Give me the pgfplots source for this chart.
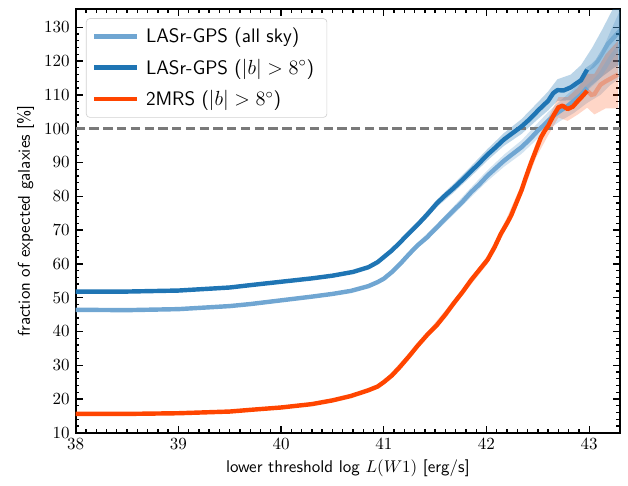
\documentclass[border=0pt]{standalone}
\usepackage{pgfplots}
\pgfplotsset{compat=1.18}
\usepgfplotslibrary{fillbetween}
\definecolor{cLight}{RGB}{112,166,210}
\definecolor{cDark}{RGB}{31,117,180}
\definecolor{cRed}{RGB}{255,69,0}
\begin{document}
\begin{tikzpicture}
\begin{axis}[
  scale only axis,
  width=320.2pt, height=249.1pt,
  xmin=38, xmax=43.3, ymin=10, ymax=135.3,
  xtick={38,39,40,41,42,43},
  ytick={10,20,30,40,50,60,70,80,90,100,110,120,130},
  minor x tick num=9, minor y tick num=4,
  tick align=inside, tick pos=both,
  major tick length=4.2pt, minor tick length=2.2pt,
  every tick/.style={black, line width=0.8pt},
  axis line style={line width=1.1pt},
  xlabel={\sffamily lower threshold log $L(W1)$ [erg/s]},
  ylabel={\sffamily fraction of expected galaxies [\%]},
  xlabel style={yshift=1pt},
  ylabel style={yshift=-1pt},
  legend cell align=left,
  legend style={at={(0.019,0.979)}, anchor=north west, rounded corners=2pt,
    draw=gray!35, fill=white, fill opacity=0.85, text opacity=1,
    font=\sffamily\fontsize{11.5}{13.5}\selectfont, row sep=4pt, inner sep=3.5pt,
    nodes={inner xsep=4pt}},
  legend image code/.code={\draw[#1, line width=2.6pt, opacity=1] (0pt,0pt) -- (25pt,0pt);},
]
% dashed reference line
\addplot[forget plot, gray!95!black, line width=1.6pt, dash pattern=on 5.5pt off 2.6pt] coordinates {(38,100) (43.3,100)};

% bands: light
\addplot[name path=lu, draw=none, forget plot] coordinates {
(41.0,56.0) (41.16,60.6) (41.33,66.3) (41.52,71.9) (41.68,77.0) (41.85,82.6) (42.01,87.7) (42.17,92.3) (42.34,96.5) (42.5,101.7) (42.6,104.9) (42.72,108.3) (42.85,111.8) (42.98,116.6) (43.11,122) (43.21,129) (43.3,135)};
\addplot[name path=ll, draw=none, forget plot] coordinates {
(41.0,55.2) (41.16,59.4) (41.33,64.7) (41.52,69.9) (41.68,74.6) (41.85,79.8) (42.01,84.5) (42.17,88.7) (42.34,92.5) (42.5,97.1) (42.6,99.7) (42.72,102.3) (42.85,104.6) (42.98,107.6) (43.11,110) (43.21,113) (43.3,115)};
\addplot[forget plot, fill=cLight, fill opacity=0.3, draw=none] fill between[of=lu and ll];

% bands: dark
\addplot[name path=du, draw=none, forget plot] coordinates {
(41.0,62.5) (41.16,67.1) (41.33,72.5) (41.52,79.1) (41.68,83.7) (41.85,88.9) (42.01,94.0) (42.17,98.7) (42.34,102.8) (42.5,107.8) (42.6,111.0) (42.69,114.6) (42.82,116.0) (42.92,118.8) (43.03,124.0) (43.13,129.5) (43.24,136) (43.3,139)};
\addplot[name path=dl, draw=none, forget plot] coordinates {
(41.0,61.5) (41.16,65.7) (41.33,70.7) (41.52,76.9) (41.68,81.1) (41.85,85.9) (42.01,90.6) (42.17,94.9) (42.34,98.4) (42.5,102.8) (42.6,105.4) (42.69,108.2) (42.82,108.4) (42.92,109.8) (43.03,113.0) (43.13,115.5) (43.24,118) (43.3,119)};
\addplot[forget plot, fill=cDark, fill opacity=0.3, draw=none] fill between[of=du and dl];

% bands: red
\addplot[name path=ru, draw=none, forget plot] coordinates {
(41.0,25.4) (41.33,36.4) (41.68,49.2) (42.01,62.4) (42.2,73.8) (42.34,83.5) (42.48,95.7) (42.6,103.2) (42.7,109.3) (42.79,109.3) (42.89,112.2) (42.98,116.2) (43.05,116.2) (43.16,122) (43.28,126)};
\addplot[name path=rl, draw=none, forget plot] coordinates {
(41.0,24.6) (41.33,35.2) (41.68,47.4) (42.01,60.0) (42.2,70.8) (42.34,79.9) (42.48,91.3) (42.6,98.0) (42.7,103.3) (42.79,102.3) (42.89,104.2) (42.98,106.2) (43.05,104.2) (43.16,106) (43.28,106)};
\addplot[forget plot, fill=cRed, fill opacity=0.22, draw=none] fill between[of=ru and rl];

% faded tails (x > 43)
\addplot[forget plot, cLight, line width=2.6pt, opacity=0.3] coordinates {
(42.98,112.1) (43.05,114.0) (43.11,116.0) (43.16,118.5) (43.21,121.0) (43.26,123) (43.3,125)};
\addplot[forget plot, cDark, line width=2.6pt, opacity=0.3] coordinates {
(42.98,117.5) (43.03,118.5) (43.08,120.0) (43.13,122.5) (43.18,125.0) (43.24,127) (43.3,129)};
\addplot[forget plot, cRed, line width=2.6pt, opacity=0.3] coordinates {
(42.98,111.2) (43.02,110.0) (43.05,110.2) (43.11,113.0) (43.16,114) (43.22,115) (43.28,116)};

% main lines
\addplot[cLight, line width=2.6pt, line join=round] coordinates {
(38.0,46.4) (38.5,46.3) (39.0,46.6) (39.5,47.5) (39.7,48.1) (40.0,49.2) (40.3,50.3) (40.5,51.1) (40.68,52.0) (40.85,53.4) (40.94,54.6) (41.0,55.6) (41.08,57.6) (41.16,60.0) (41.25,63.0) (41.33,65.5) (41.42,67.8) (41.52,70.9) (41.6,73.4) (41.68,75.8) (41.77,78.5) (41.85,81.2) (41.93,83.5) (42.01,86.1) (42.09,88.3) (42.17,90.5) (42.25,92.4) (42.34,94.5) (42.42,96.8) (42.5,99.4) (42.55,100.8) (42.6,102.3) (42.66,104.0) (42.72,105.3) (42.78,106.5) (42.85,108.2) (42.92,110.0) (42.98,112.1)};
\addlegendentry{LASr-GPS (all sky)}
\addplot[cDark, line width=2.6pt, line join=round] coordinates {
(38.0,51.8) (38.5,51.8) (39.0,52.1) (39.5,53.0) (39.7,53.7) (40.0,54.7) (40.3,55.7) (40.5,56.5) (40.7,57.6) (40.85,59.0) (40.94,60.5) (41.0,62.0) (41.08,64.0) (41.16,66.4) (41.25,69.2) (41.33,71.6) (41.42,74.5) (41.52,78.0) (41.6,80.3) (41.68,82.4) (41.77,85.0) (41.85,87.4) (41.93,89.8) (42.01,92.3) (42.09,94.5) (42.17,96.8) (42.25,98.6) (42.34,100.6) (42.42,102.8) (42.5,105.3) (42.55,106.8) (42.6,108.2) (42.65,110.5) (42.69,111.4) (42.75,111.3) (42.82,112.2) (42.88,113.5) (42.92,114.3) (42.98,117.5)};
\addlegendentry{LASr-GPS ($|b|>8^{\circ}$)}
\addplot[cRed, line width=2.6pt, line join=round] coordinates {
(38.0,15.6) (38.5,15.6) (39.0,15.8) (39.5,16.3) (39.7,16.8) (40.0,17.5) (40.3,18.5) (40.5,19.6) (40.68,20.9) (40.85,22.6) (40.94,23.7) (41.0,25.0) (41.08,27.0) (41.16,29.6) (41.25,32.8) (41.33,35.8) (41.42,38.9) (41.52,42.0) (41.6,45.0) (41.68,48.3) (41.77,51.8) (41.85,55.2) (41.93,58.2) (42.01,61.2) (42.08,65.0) (42.14,68.9) (42.2,72.0) (42.24,74.3) (42.29,78.0) (42.34,81.7) (42.38,85.3) (42.43,89.6) (42.48,93.5) (42.53,97.4) (42.57,99.5) (42.6,100.8) (42.63,102.6) (42.66,104.3) (42.7,106.3) (42.74,106.8) (42.79,105.8) (42.84,106.5) (42.89,108.2) (42.94,109.8) (42.98,111.2)};
\addlegendentry{2MRS ($|b|>8^{\circ}$)}
\end{axis}
\pgfresetboundingbox
\path ([xshift=-44.5pt,yshift=-30.8pt]current axis.south west) rectangle ([xshift=4.7pt,yshift=5.5pt]current axis.north east);
\end{tikzpicture}
\end{document}
